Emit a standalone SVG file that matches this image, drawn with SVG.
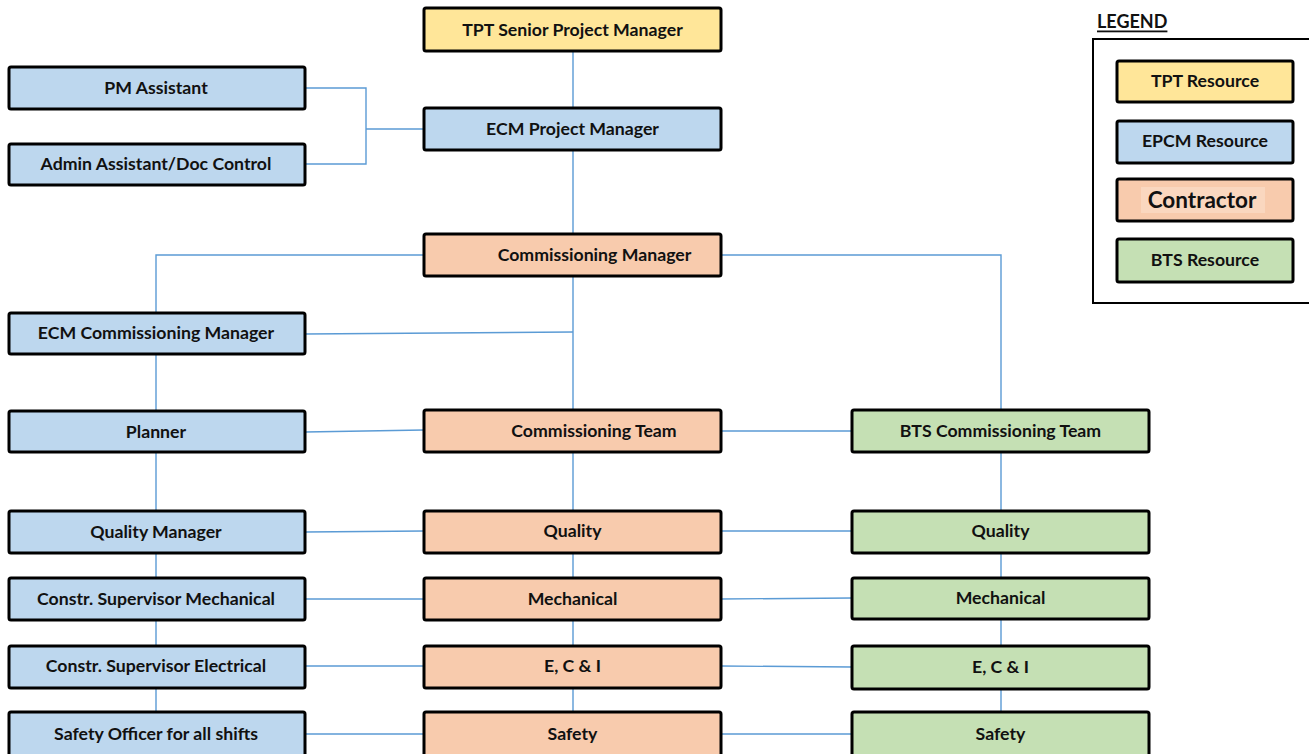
<svg xmlns="http://www.w3.org/2000/svg" width="1309" height="754" viewBox="0 0 1309 754">
<style>
.n{stroke:#000;stroke-width:3}
.tpt{fill:#ffe699}.epcm{fill:#bdd7ee}.con{fill:#f8cbad}.bts{fill:#c5e0b4}
text{font-family:Lato,"Open Sans","Liberation Sans",sans-serif;font-weight:bold;font-size:17.7px;fill:#111;text-anchor:middle;dominant-baseline:central}
.c{fill:none;stroke:#5b9bd5;stroke-width:1.4}
</style>
<rect width="1309" height="754" fill="#fff"/>
<g id="connectors">
<path class="c" d="M573 51V108M573 150V234M573 276V410M573 452V511M573 553V578M573 620V646M573 688V712"/>
<path class="c" d="M305 88H366V164H305M366 129H424"/>
<path class="c" d="M424 255H156V313M156 354V411M156 452V511M156 553V578M156 620V646M156 688V712"/>
<path class="c" d="M721 255H1001V410M1001 452V511M1001 553V578M1001 620V646M1001 688V712"/>
<path class="c" d="M305 334L573 332M305 432L424 430M721 431H852"/>
<path class="c" d="M305 532L424 531M721 531H852M305 599H424M721 599L852 598M305 666H424M721 666L852 667M305 734H424M721 734H852"/>
</g>
<g id="tpt-senior"><rect class="n tpt" x="424" y="8" width="297" height="43" rx="2"/><text x="572.5" y="29.5">TPT Senior Project Manager</text></g>
<g id="pm-assistant"><rect class="n epcm" x="9" y="67" width="296" height="42" rx="2"/><text x="156" y="87.5">PM Assistant</text></g>
<g id="admin-assistant"><rect class="n epcm" x="9" y="144" width="296" height="41" rx="2"/><text x="156" y="163.5">Admin Assistant/Doc Control</text></g>
<g id="ecm-pm"><rect class="n epcm" x="424" y="108" width="297" height="42" rx="2"/><text x="572.5" y="128.5">ECM Project Manager</text></g>
<g id="comm-manager"><rect class="n con" x="424" y="234" width="297" height="42" rx="2"/><text x="594.5" y="254.5">Commissioning Manager</text></g>
<g id="ecm-comm-manager"><rect class="n epcm" x="9" y="313" width="296" height="41" rx="2"/><text x="156" y="332.5">ECM Commissioning Manager</text></g>
<g id="planner"><rect class="n epcm" x="9" y="411" width="296" height="41" rx="2"/><text x="156" y="431.5">Planner</text></g>
<g id="comm-team"><rect class="n con" x="424" y="410" width="297" height="42" rx="2"/><text x="594" y="430.5">Commissioning Team</text></g>
<g id="bts-comm-team"><rect class="n bts" x="852" y="410" width="297" height="42" rx="2"/><text x="1000.5" y="430.5">BTS Commissioning Team</text></g>
<g id="quality-manager"><rect class="n epcm" x="9" y="511" width="296" height="42" rx="2"/><text x="156" y="531.5">Quality Manager</text></g>
<g id="quality-con"><rect class="n con" x="424" y="511" width="297" height="42" rx="2"/><text x="572.5" y="530.5">Quality</text></g>
<g id="quality-bts"><rect class="n bts" x="852" y="511" width="297" height="42" rx="2"/><text x="1000.5" y="530.5">Quality</text></g>
<g id="sup-mech"><rect class="n epcm" x="9" y="578" width="296" height="42" rx="2"/><text x="156" y="598.5">Constr. Supervisor Mechanical</text></g>
<g id="mech-con"><rect class="n con" x="424" y="578" width="297" height="42" rx="2"/><text x="572.5" y="598.5">Mechanical</text></g>
<g id="mech-bts"><rect class="n bts" x="852" y="578" width="297" height="41" rx="2"/><text x="1000.5" y="597.5">Mechanical</text></g>
<g id="sup-elec"><rect class="n epcm" x="9" y="646" width="296" height="42" rx="2"/><text x="156" y="665.5">Constr. Supervisor Electrical</text></g>
<g id="eci-con"><rect class="n con" x="424" y="646" width="297" height="42" rx="2"/><text x="572.5" y="665.5">E, C &amp; I</text></g>
<g id="eci-bts"><rect class="n bts" x="852" y="646" width="297" height="43" rx="2"/><text x="1000.5" y="666.5">E, C &amp; I</text></g>
<g id="safety-officer"><rect class="n epcm" x="9" y="712" width="296" height="46" rx="2"/><text x="156" y="733.5">Safety Officer for all shifts</text></g>
<g id="safety-con"><rect class="n con" x="424" y="712" width="297" height="46" rx="2"/><text x="572.5" y="733.5">Safety</text></g>
<g id="safety-bts"><rect class="n bts" x="852" y="712" width="297" height="46" rx="2"/><text x="1000.5" y="733.5">Safety</text></g>
<g id="legend">
<text x="1097" y="20.5" style="text-anchor:start;font-size:18px;text-decoration:underline">LEGEND</text>
<rect x="1093" y="39" width="230" height="264" fill="#fff" stroke="#000" stroke-width="2"/>
<rect class="n tpt" x="1117" y="61" width="176" height="41" rx="2"/><text x="1205" y="80.5">TPT Resource</text>
<rect class="n epcm" x="1117" y="121" width="176" height="42" rx="2"/><text x="1205" y="140.5">EPCM Resource</text>
<rect class="n con" x="1117" y="179" width="176" height="42" rx="2"/><rect x="1141" y="187" width="124" height="26" fill="#fad7bf"/><text x="1202" y="199" style="font-size:22.5px">Contractor</text>
<rect class="n bts" x="1117" y="239" width="176" height="43" rx="2"/><text x="1205" y="259.5">BTS Resource</text>
</g>
</svg>
